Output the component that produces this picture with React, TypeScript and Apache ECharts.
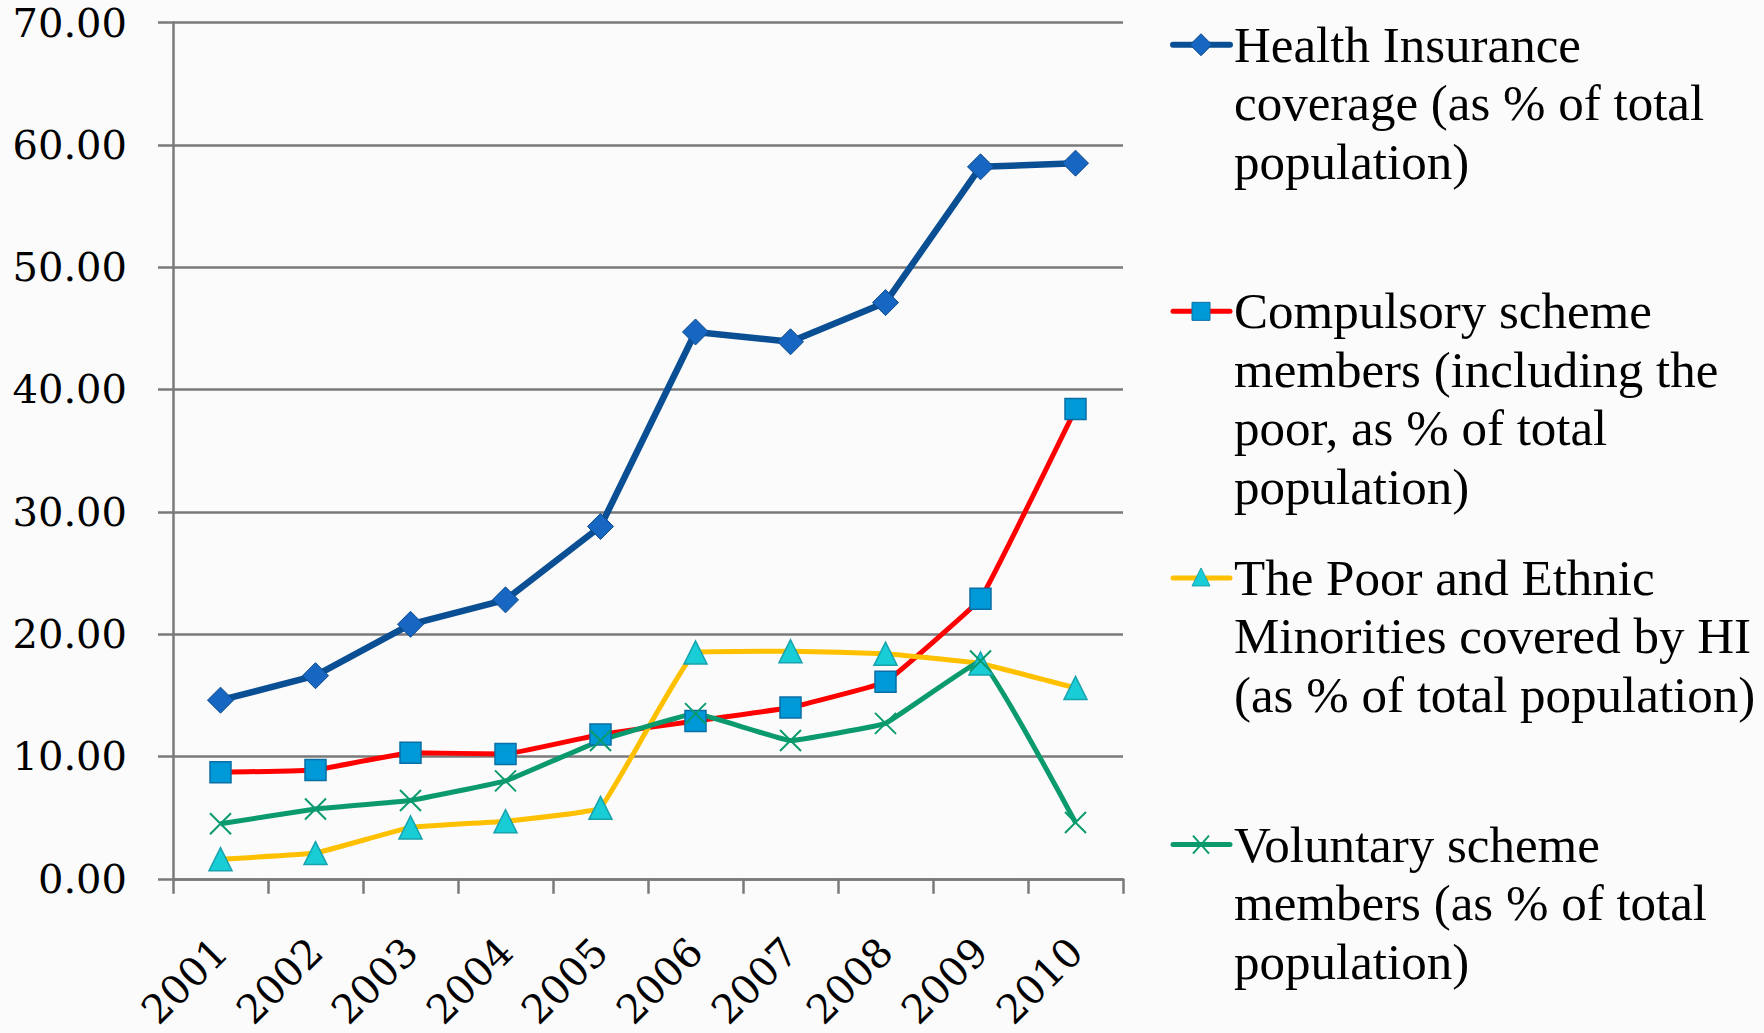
import React, { useEffect, useRef } from "react";
import * as echarts from "echarts";

const years = ["2001", "2002", "2003", "2004", "2005", "2006", "2007", "2008", "2009", "2010"];
const healthInsurance = [14.6, 16.6, 20.8, 22.8, 28.8, 44.7, 43.9, 47.1, 58.2, 58.5];
const compulsory = [8.7, 8.9, 10.3, 10.2, 11.8, 12.9, 14.0, 16.1, 22.9, 38.4];
const poorEthnic = [1.6, 2.1, 4.2, 4.7, 5.8, 18.5, 18.6, 18.4, 17.6, 15.6];
const voluntary = [4.5, 5.7, 6.4, 8.0, 11.3, 13.5, 11.3, 12.7, 17.8, 4.6];

const seriesNames = [
  "Health Insurance\ncoverage (as % of total\npopulation)",
  "Compulsory scheme\nmembers (including the\npoor, as % of total\npopulation)",
  "The Poor and Ethnic\nMinorities covered by HI\n(as % of total population)",
  "Voluntary scheme\nmembers (as % of total\npopulation)",
];

const C = {
  hiLine: "#0a4f94",
  hiFill: "#1767c2",
  hiBorder: "#0d4a8a",
  cLine: "#ff0000",
  cFill: "#0099d8",
  cBorder: "#0a6fa5",
  pLine: "#ffc000",
  pFill: "#19cdd6",
  pBorder: "#17a2ad",
  vLine: "#0a9a6e",
};

const AXIS_FONT = "DejaVu Serif";
const LEGEND_FONT = "Liberation Serif";

export default function App() {
  const ref = useRef<HTMLDivElement>(null);
  useEffect(() => {
    if (!ref.current) return;
    const chart = echarts.init(ref.current, null, { renderer: "svg" });

    const legX = 1201;
    const legLineL = 1173;
    const legLineR = 1230;
    const legTextX = 1234;
    const legTop0 = 15.5;
    const legStep = 266.6;
    const legLH = 58.5;

    const graphics: any[] = [];
    seriesNames.forEach((name, i) => {
      const top = legTop0 + i * legStep;
      const cy = top + legLH / 2;
      const lineColor = [C.hiLine, C.cLine, C.pLine, C.vLine][i];
      graphics.push({
        type: "line",
        shape: { x1: legLineL, y1: cy, x2: legLineR, y2: cy },
        style: { stroke: lineColor, lineWidth: i === 0 ? 6 : 5, lineCap: "round" },
      });
      if (i === 0) {
        graphics.push({
          type: "polygon",
          shape: { points: [[legX, cy - 11], [legX + 11, cy], [legX, cy + 11], [legX - 11, cy]] },
          style: { fill: C.hiFill, stroke: C.hiBorder, lineWidth: 1 },
        });
      } else if (i === 1) {
        graphics.push({
          type: "rect",
          shape: { x: legX - 9, y: cy - 9, width: 18, height: 18 },
          style: { fill: C.cFill, stroke: C.cBorder, lineWidth: 1 },
        });
      } else if (i === 2) {
        graphics.push({
          type: "polygon",
          shape: { points: [[legX, cy - 10], [legX + 9, cy + 8], [legX - 9, cy + 8]] },
          style: { fill: C.pFill, stroke: C.pBorder, lineWidth: 1 },
        });
      } else {
        graphics.push({
          type: "line",
          shape: { x1: legX - 8, y1: cy - 9, x2: legX + 8, y2: cy + 9 },
          style: { stroke: C.vLine, lineWidth: 2 },
        });
        graphics.push({
          type: "line",
          shape: { x1: legX + 8, y1: cy - 9, x2: legX - 8, y2: cy + 9 },
          style: { stroke: C.vLine, lineWidth: 2 },
        });
      }
      graphics.push({
        type: "text",
        x: legTextX,
        y: top,
        style: {
          text: name,
          fontFamily: LEGEND_FONT,
          fontSize: 51,
          lineHeight: legLH,
          fill: "#000",
          verticalAlign: "top",
          align: "left",
        },
      });
    });

    const option: any = {
      animation: false,
      backgroundColor: "#fbfbfb",
      grid: { left: 173, right: 641, top: 22.5, bottom: 150, containLabel: false },
      xAxis: {
        type: "category",
        data: years,
        boundaryGap: true,
        axisLine: { show: true, lineStyle: { color: "#7a7a7a", width: 2.5 } },
        axisTick: { show: true, length: 15, lineStyle: { color: "#7a7a7a", width: 2.5 } },
        axisLabel: {
          rotate: 45,
          margin: 66,
          fontFamily: AXIS_FONT,
          fontSize: 40,
          color: "#000",
          interval: 0,
        },
        splitLine: { show: false },
      },
      yAxis: {
        type: "value",
        min: 0,
        max: 70,
        interval: 10,
        axisLine: { show: true, lineStyle: { color: "#7a7a7a", width: 2.5 } },
        axisTick: { show: true, length: 15, lineStyle: { color: "#7a7a7a", width: 2.5 } },
        axisLabel: {
          margin: 46,
          fontFamily: AXIS_FONT,
          fontSize: 40,
          color: "#000",
          padding: [16, 0, 0, 0],
          formatter: (v: number) => v.toFixed(2),
        },
        splitLine: { show: true, lineStyle: { color: "#7a7a7a", width: 2.5 } },
      },
      graphic: graphics,
      series: [
        {
          name: seriesNames[0],
          type: "line",
          data: healthInsurance,
          symbol: "diamond",
          symbolSize: 26,
          lineStyle: { color: C.hiLine, width: 6.5 },
          itemStyle: { color: C.hiFill, borderColor: C.hiBorder, borderWidth: 1 },
        },
        {
          name: seriesNames[1],
          type: "line",
          data: compulsory,
          smooth: 0.07,
          symbol: "rect",
          symbolSize: 21,
          lineStyle: { color: C.cLine, width: 5 },
          itemStyle: { color: C.cFill, borderColor: C.cBorder, borderWidth: 1.5 },
        },
        {
          name: seriesNames[2],
          type: "line",
          data: poorEthnic,
          smooth: 0.07,
          symbol: "triangle",
          symbolSize: 23,
          lineStyle: { color: C.pLine, width: 5 },
          itemStyle: { color: C.pFill, borderColor: C.pBorder, borderWidth: 1.5 },
        },
        {
          name: seriesNames[3],
          type: "line",
          data: voluntary,
          smooth: 0.07,
          symbol: "path://M0,0L10,10M10,0L0,10",
          symbolSize: 21,
          lineStyle: { color: C.vLine, width: 5 },
          itemStyle: { color: C.vLine, borderColor: C.vLine, borderWidth: 2 },
        },
      ],
    };
    chart.setOption(option);
    return () => chart.dispose();
  }, []);

  return (
    <div
      ref={ref}
      style={{ position: "fixed", left: 0, top: 0, width: 1764, height: 1033 }}
    />
  );
}
